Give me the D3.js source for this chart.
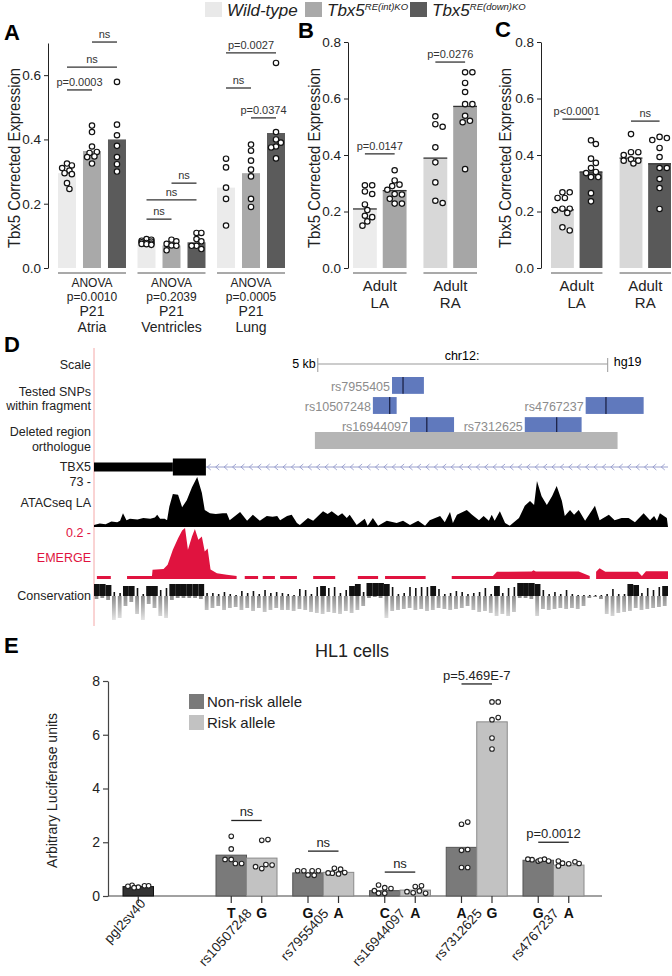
<!DOCTYPE html>
<html>
<head>
<meta charset="utf-8">
<script src="https://cdn.jsdelivr.net/npm/d3@7.9.0/dist/d3.min.js"></script>
<style>
  body { margin: 0; background: #fff; }
  svg { font-family: "Liberation Sans", Arial, Helvetica, sans-serif; }
</style>
</head>
<body>
<svg id="fig" width="672" height="976"></svg>
<script>
// ---------- data: panel A (P21) ----------
const tissuesA = ['Atria', 'Ventricles', 'Lung'];
const anovaA = ['p=0.0010', 'p=0.2039', 'p=0.0005'];
const meansA = [[0.295, 0.364, 0.400], [0.075, 0.070, 0.080], [0.250, 0.295, 0.420]];
const pointsA = [
  [[0.325, 0.319, 0.311, 0.303, 0.295, 0.292, 0.264, 0.246],
   [0.443, 0.423, 0.378, 0.361, 0.358, 0.347, 0.345, 0.325],
   [0.579, 0.446, 0.413, 0.380, 0.345, 0.323, 0.300]],
  [[0.090, 0.088, 0.085, 0.082, 0.080, 0.078, 0.076, 0.075, 0.074, 0.072],
   [0.088, 0.083, 0.075, 0.070, 0.069, 0.055],
   [0.109, 0.109, 0.090, 0.083, 0.069, 0.069, 0.059]],
  [[0.340, 0.313, 0.250, 0.215, 0.132],
   [0.384, 0.365, 0.334, 0.306, 0.285, 0.215, 0.190],
   [0.638, 0.423, 0.400, 0.390, 0.378, 0.375, 0.341]]
];
// [group, from, to, level, label]
const sigA = [
  [0, 1, 2, 0.703, 'ns'], [0, 0, 2, 0.625, 'ns'], [0, 0, 1, 0.554, 'p=0.0003'],
  [1, 1, 2, 0.264, 'ns'], [1, 0, 2, 0.212, 'ns'], [1, 0, 1, 0.152, 'ns'],
  [2, 0, 2, 0.669, 'p=0.0027'], [2, 0, 1, 0.560, 'ns'], [2, 1, 2, 0.467, 'p=0.0374']
];

// ---------- data: panel B (Adult, int KO) ----------
const regions = ['LA', 'RA'];
const meansB = [[0.209, 0.274], [0.389, 0.572]];
const pointsB = [
  [[0.293, 0.293, 0.271, 0.262, 0.225, 0.205, 0.185, 0.180, 0.165, 0.150],
   [0.346, 0.310, 0.295, 0.290, 0.277, 0.262, 0.260, 0.245, 0.228, 0.228]],
  [[0.537, 0.509, 0.500, 0.427, 0.374, 0.303, 0.238, 0.230],
   [0.693, 0.693, 0.655, 0.623, 0.580, 0.580, 0.539, 0.521, 0.516, 0.350]]
];
const sigB = [[0, 0, 1, 0.404, 'p=0.0147'], [1, 0, 1, 0.729, 'p=0.0276']];

// ---------- data: panel C (Adult, down KO) ----------
const meansC = [[0.206, 0.340], [0.389, 0.369]];
const pointsC = [
  [[0.268, 0.268, 0.248, 0.248, 0.210, 0.210, 0.205, 0.195, 0.144, 0.133],
   [0.452, 0.439, 0.387, 0.372, 0.354, 0.340, 0.336, 0.322, 0.322, 0.265, 0.236]],
  [[0.474, 0.410, 0.410, 0.400, 0.385, 0.380, 0.380, 0.370],
   [0.464, 0.460, 0.453, 0.425, 0.393, 0.354, 0.354, 0.315, 0.283, 0.209]]
];
const sigC = [[0, 0, 1, 0.527, 'p<0.0001'], [1, 0, 1, 0.520, 'ns']];

// ---------- data: panel D (browser, positions in kb) ----------
const scaleBarKb = [3.86, 8.86];
const snpRows = [
  { id: 'rs7955405', row: 0, start: 5.14, end: 5.69, snp: 5.33 },
  { id: 'rs10507248', row: 1, start: 4.81, end: 5.22, snp: 5.10 },
  { id: 'rs4767237', row: 1, start: 8.48, end: 9.48, snp: 8.83 },
  { id: 'rs16944097', row: 2, start: 5.45, end: 6.21, snp: 5.74 },
  { id: 'rs7312625', row: 2, start: 7.43, end: 8.41, snp: 7.98 }
];
const deletedRegion = [3.81, 9.03];
const tbx5Utr = [0, 1.36];
const tbx5Exon = [1.36, 1.93];
const tbx5Intron = [1.93, 9.9];

const atac = [[0,3],[0.1,5],[0.2,4],[0.3,8],[0.4,7],[0.45,9],[0.5,20],[0.56,10],[0.62,12],[0.75,11],
  [0.85,13],[0.97,12],[1.05,14],[1.09,18],[1.14,12],[1.22,12],[1.26,10],[1.3,30],[1.36,48],[1.45,47],
  [1.52,29],[1.6,39],[1.69,58],[1.78,73],[1.86,50],[1.91,25],[2.0,20],[2.1,19],[2.22,20],[2.29,20],
  [2.34,10],[2.52,22],[2.64,9],[2.74,18],[2.86,9],[2.98,16],[3.08,15],[3.16,16],[3.21,10],[3.33,16],
  [3.41,18],[3.5,6],[3.55,3],[3.69,13],[3.78,9],[3.95,23],[4.03,19],[4.1,23],[4.21,16],[4.28,20],
  [4.36,13],[4.41,18],[4.53,3],[4.67,12],[4.72,2],[4.81,13],[4.9,2],[5.05,9],[5.22,6],[5.33,9],
  [5.45,3],[5.59,9],[5.71,2],[5.79,10],[5.97,16],[6.05,7],[6.14,22],[6.19,6],[6.26,18],[6.43,25],
  [6.52,18],[6.64,10],[6.72,16],[6.81,9],[6.86,18],[6.91,9],[7.0,23],[7.09,6],[7.17,2],[7.33,13],
  [7.43,31],[7.52,38],[7.59,32],[7.64,67],[7.72,45],[7.81,32],[7.9,45],[7.98,60],[8.07,38],[8.12,16],
  [8.21,25],[8.28,18],[8.36,25],[8.47,9],[8.64,31],[8.72,10],[8.88,18],[8.98,10],[9.1,13],[9.22,13],
  [9.33,7],[9.48,20],[9.59,10],[9.66,16],[9.71,9],[9.76,20],[9.88,13],[9.9,0]];

const emerge = [[0.05,0.012],[0.29,0.012],[0.29,null],
  [0.57,0.012],[1.0,0.012],[1.01,0.036],[1.2,0.039],[1.27,0.056],[1.36,0.115],[1.45,0.16],[1.52,0.19],
  [1.57,0.2],[1.62,0.115],[1.69,0.167],[1.74,0.196],[1.8,0.154],[1.86,0.167],[1.91,0.108],[1.96,0.12],
  [2.01,0.037],[2.12,0.023],[2.29,0.017],[2.46,0.012],[2.47,null],
  [2.6,0.012],[2.83,0.012],[2.83,null],[2.91,0.012],[3.12,0.012],[3.12,null],
  [3.21,0.012],[3.5,0.012],[3.5,null],[3.78,0.012],[4.16,0.012],[4.16,null],
  [4.55,0.012],[4.9,0.012],[4.9,null],[5.02,0.012],[5.72,0.012],[5.72,null],
  [6.17,0.012],[6.88,0.012],[6.95,0.028],[7.55,0.029],[7.58,0.034],[7.62,0.029],[8.36,0.029],
  [8.55,0.012],[8.56,null],[8.66,0.028],[8.72,0.042],[8.82,0.028],[9.38,0.028],[9.45,0.012],
  [9.52,0.03],[9.9,0.03]];

// conservation, 0.1 kb bins
const consPos = [12,12,11,4,3,10,10,8,2,10,10,6,8,12,12,12,12,12,12,3,3,2,4,2,1,5,3,5,2,6,3,4,3,2,1,7,6,2,9,10,
  8,9,3,6,10,12,4,13,13,13,12,9,2,3,9,8,9,9,10,7,2,3,5,4,2,3,4,8,2,10,3,8,9,13,13,13,12,6,2,4,
  2,6,2,1,1,1,1,1,2,7,2,2,12,11,3,8,6,9,10];
const consNeg = [3,2,4,24,22,10,6,18,24,8,12,20,22,4,2,2,2,2,3,14,12,10,14,12,11,14,12,15,12,16,14,12,14,14,15,13,14,16,17,18,
  16,17,18,15,17,14,10,2,1,2,22,15,14,13,12,14,13,15,14,12,13,14,13,12,10,14,16,15,17,20,18,20,16,2,2,3,20,13,14,13,
  12,13,12,13,10,2,1,3,18,20,17,16,15,12,14,13,12,11,10];

// ---------- data: panel E (HL1 luciferase) ----------
const ctrlName = 'pgl2sv40';
const ctrlMean = 0.35;
const ctrlPoints = [0.33, 0.38, 0.40, 0.36, 0.38, 0.31];
const snps = ['rs10507248', 'rs7955405', 'rs16944097', 'rs7312625', 'rs4767237'];
const nonRiskAllele = ['T', 'G', 'C', 'A', 'G'];
const riskAllele = ['G', 'A', 'A', 'G', 'A'];
const nonRiskMean = [1.52, 0.86, 0.20, 1.81, 1.33];
const riskMean = [1.41, 0.88, 0.22, 6.48, 1.15];
const nonRiskPoints = [
  [2.22, 1.75, 1.36, 1.21, 1.36, 1.21],
  [0.78, 0.94, 0.94, 0.94, 0.94, 0.77],
  [0.31, 0.10, 0.28, 0.41, 0.10, 0.20],
  [2.67, 2.75, 1.70, 1.73, 1.06, 1.06],
  [1.30, 1.37, 1.35, 1.37, 1.30, 1.34]
];
const riskPoints = [
  [2.07, 2.10, 1.02, 1.17, 1.09, 1.15],
  [0.82, 1.00, 0.87, 1.03, 0.85, 0.86],
  [0.35, 0.19, 0.38, 0.12, 0.16, 0.10],
  [7.22, 7.22, 6.56, 6.64, 5.88, 5.47],
  [1.20, 1.27, 1.22, 1.21, 1.30, 1.12]
];
const sigE = [[0, 2.81, 'ns'], [1, 1.67, 'ns'], [2, 0.89, 'ns'], [3, 7.89, 'p=5.469E-7'], [4, 2.0, 'p=0.0012']];

// ---------- drawing ----------
const svg = d3.select('#fig');
const red = '#e0133f';

function panelLetter(t, x, y) {
  svg.append('text').attr('x', x).attr('y', y).attr('font-size', 22).attr('font-weight', 'bold').text(t);
}

// beeswarm-ish dodge so circles in a bar do not pile up
function swarm(values, y, r, maxHalf) {
  const placed = [];
  return values.map(v => {
    const cy = y(v);
    let best = 0, bestOv = Infinity;
    for (let k = 0; k < 40; k++) {
      const dx = (k % 2 ? 1 : -1) * Math.ceil(k / 2) * r * 0.9;
      if (Math.abs(dx) > maxHalf) continue;
      let ov = 0;
      placed.forEach(p => {
        const d = Math.hypot(p.dx - dx, p.cy - cy);
        if (d < 2 * r + 0.6) ov += 2 * r + 0.6 - d;
      });
      if (ov === 0) { best = dx; bestOv = 0; break; }
      if (ov < bestOv) { bestOv = ov; best = dx; }
    }
    placed.push({ dx: best, cy });
    return { v, dx: best, cy };
  });
}

function barPanel(o) {
  const g = svg.append('g');
  const xg = d3.scaleBand().domain(d3.range(o.means.length)).range(o.range).paddingInner(o.groupPad);
  const xi = d3.scaleBand().domain(d3.range(o.colors.length)).range([0, xg.bandwidth()]).paddingInner(o.barPad);
  const y = o.y;
  const cx = (gi, si) => xg(gi) + xi(si) + xi.bandwidth() / 2;

  // axis
  const ax = g.append('g').attr('transform', `translate(${o.axisX},0)`)
    .call(d3.axisLeft(y).tickValues(o.ticks).tickFormat(d3.format('.1f')).tickSize(4).tickSizeOuter(0));
  ax.select('.domain').attr('stroke', '#222');
  ax.selectAll('.tick line').attr('stroke', '#222');
  ax.selectAll('.tick text').attr('font-size', 13.5).attr('fill', '#222').attr('font-family', 'Liberation Sans, Arial');

  g.append('text')
    .attr('transform', `translate(${o.titleX},158) rotate(-90)`)
    .attr('text-anchor', 'middle').attr('font-size', 16).attr('fill', '#222')
    .attr('textLength', 180).attr('lengthAdjust', 'spacingAndGlyphs')
    .text('Tbx5 Corrected Expression');

  o.means.forEach((ms, gi) => {
    ms.forEach((m, si) => {
      g.append('rect').attr('x', xg(gi) + xi(si)).attr('width', xi.bandwidth())
        .attr('y', y(m)).attr('height', y(0) - y(m)).attr('fill', o.colors[si][gi] || o.colors[si][0]);
      if (o.topLine) {
        g.append('line').attr('x1', xg(gi) + xi(si)).attr('x2', xg(gi) + xi(si) + xi.bandwidth())
          .attr('y1', y(m)).attr('y2', y(m)).attr('stroke', '#333').attr('stroke-width', 1.3);
      }
      const pts = swarm(o.points[gi][si], y, o.r, xi.bandwidth() / 2 - 2);
      g.selectAll(null).data(pts).join('circle')
        .attr('cx', d => cx(gi, si) + d.dx).attr('cy', d => d.cy).attr('r', o.r)
        .attr('fill', 'white').attr('stroke', '#111').attr('stroke-width', 1.2);
    });
    // group underline
    g.append('line').attr('x1', xg(gi)).attr('x2', xg(gi) + xg.bandwidth())
      .attr('y1', y(0) + 5).attr('y2', y(0) + 5).attr('stroke', '#8c8c8c').attr('stroke-width', 1.5);
    o.labels(gi).forEach(l => {
      g.append('text').attr('x', xg(gi) + xg.bandwidth() / 2).attr('y', l[1])
        .attr('text-anchor', 'middle').attr('font-size', l[2]).attr('fill', '#222').text(l[0]);
    });
  });

  o.sig.forEach(([gi, a, b, lev, lab]) => {
    g.append('line').attr('x1', cx(gi, a)).attr('x2', cx(gi, b)).attr('y1', y(lev)).attr('y2', y(lev))
      .attr('stroke', '#333').attr('stroke-width', 1.3);
    g.append('text').attr('x', (cx(gi, a) + cx(gi, b)) / 2).attr('y', y(lev) - 4)
      .attr('text-anchor', 'middle').attr('font-size', 11).attr('fill', '#333').text(lab);
  });
}

// top legend
const legendTop = [
  { x: 205, color: '#e9e9e9', main: 'Wild-type', sup: '' },
  { x: 305, color: '#a9a9a9', main: 'Tbx5', sup: 'RE(int)KO' },
  { x: 410, color: '#5b5b5b', main: 'Tbx5', sup: 'RE(down)KO' }
];
legendTop.forEach(d => {
  svg.append('rect').attr('x', d.x).attr('y', 2).attr('width', 17).attr('height', 15).attr('fill', d.color);
  const t = svg.append('text').attr('x', d.x + 22).attr('y', 16).attr('font-size', 17)
    .attr('font-style', 'italic').attr('fill', '#222');
  t.append('tspan').text(d.main);
  if (d.sup) t.append('tspan').attr('dy', -6).attr('font-size', 9.5).text(d.sup);
});

// panel A
panelLetter('A', 4, 40);
barPanel({
  means: meansA, points: pointsA, sig: sigA,
  colors: [['#ebebeb'], ['#a9a9a9'], ['#5b5b5b']],
  range: [58, 285], groupPad: 0.145, barPad: 0.28,
  y: d3.scaleLinear().domain([0, 0.7]).range([268, 43]),
  axisX: 48, ticks: [0, 0.2, 0.4, 0.6], titleX: 20, r: 2.7, topLine: false,
  labels: gi => [['ANOVA', 287, 12], [anovaA[gi], 300.5, 12], ['P21', 316, 14], [tissuesA[gi], 331.5, 14]]
});

// panel B
panelLetter('B', 298, 38);
barPanel({
  means: meansB, points: pointsB, sig: sigB,
  colors: [['#ececec', '#d8d8d8'], ['#a6a6a6']],
  range: [353, 477], groupPad: 0.24, barPad: 0.2,
  y: d3.scaleLinear().domain([0, 0.8]).range([268, 42]),
  axisX: 348, ticks: [0, 0.2, 0.4, 0.6, 0.8], titleX: 320, r: 2.7, topLine: true,
  labels: gi => [['Adult', 291, 15], [regions[gi], 308, 15]]
});

// panel C
panelLetter('C', 495, 37);
barPanel({
  means: meansC, points: pointsC, sig: sigC,
  colors: [['#d8d8d8'], ['#595959']],
  range: [551, 671], groupPad: 0.25, barPad: 0.2,
  y: d3.scaleLinear().domain([0, 0.8]).range([268, 42]),
  axisX: 541, ticks: [0, 0.2, 0.4, 0.6, 0.8], titleX: 511, r: 2.7, topLine: true,
  labels: gi => [['Adult', 291, 15], [regions[gi], 308, 15]]
});

// ---------- panel D ----------
panelLetter('D', 4, 352);
const xD = d3.scaleLinear().domain([0, 9.9]).range([94, 668]);
const gD = svg.append('g');

gD.append('line').attr('x1', 94).attr('x2', 94).attr('y1', 348).attr('y2', 626)
  .attr('stroke', '#f4a8a8').attr('stroke-width', 1);

const trackLabels = [
  ['Scale', 369, '#222'], ['Tested SNPs', 396, '#222'], ['within fragment', 410, '#222'],
  ['Deleted region', 436, '#222'], ['orthologue', 451, '#222'], ['TBX5', 471, '#222'],
  ['73 -', 486, '#222'], ['ATACseq LA', 507, '#222'], ['0.2 -', 537, red], ['EMERGE', 562, red],
  ['Conservation', 600, '#222']
];
trackLabels.forEach(([t, y, c]) => {
  gD.append('text').attr('x', 91).attr('y', y).attr('text-anchor', 'end').attr('font-size', 12.5)
    .attr('fill', c).text(t);
});

// scale bar
const sbY = 364;
gD.append('line').attr('x1', xD(scaleBarKb[0])).attr('x2', xD(scaleBarKb[1])).attr('y1', sbY).attr('y2', sbY)
  .attr('stroke', '#999');
scaleBarKb.forEach(k => gD.append('line').attr('x1', xD(k)).attr('x2', xD(k)).attr('y1', sbY - 6).attr('y2', sbY + 8)
  .attr('stroke', '#999'));
gD.append('text').attr('x', xD(scaleBarKb[0]) - 2).attr('y', 368).attr('text-anchor', 'end').attr('font-size', 12.5).text('5 kb');
gD.append('text').attr('x', 462).attr('y', 360).attr('text-anchor', 'middle').attr('font-size', 12.5).text('chr12:');
gD.append('text').attr('x', xD(scaleBarKb[1]) + 6).attr('y', 366).attr('font-size', 12.5).text('hg19');

// SNP fragments
const rowY = d3.scaleBand().domain([0, 1, 2]).range([377, 434]).paddingInner(0.16);
snpRows.forEach(d => {
  gD.append('rect').attr('x', xD(d.start)).attr('width', xD(d.end) - xD(d.start))
    .attr('y', rowY(d.row)).attr('height', rowY.bandwidth()).attr('fill', '#6079bd');
  gD.append('line').attr('x1', xD(d.snp)).attr('x2', xD(d.snp)).attr('y1', rowY(d.row))
    .attr('y2', rowY(d.row) + rowY.bandwidth()).attr('stroke', '#1c2348').attr('stroke-width', 1.3);
  gD.append('text').attr('x', xD(d.start) - 2).attr('y', rowY(d.row) + rowY.bandwidth() - 3)
    .attr('text-anchor', 'end').attr('font-size', 12.5).attr('fill', '#8c8c8c').text(d.id);
});
gD.append('rect').attr('x', xD(deletedRegion[0])).attr('width', xD(deletedRegion[1]) - xD(deletedRegion[0]))
  .attr('y', 432).attr('height', 17).attr('fill', '#b5b5b5');

// TBX5 gene model
const geneY = 467;
gD.append('line').attr('x1', xD(tbx5Intron[0])).attr('x2', xD(tbx5Intron[1])).attr('y1', geneY).attr('y2', geneY)
  .attr('stroke', '#8088c0').attr('stroke-width', 0.8);
gD.selectAll(null).data(d3.range(tbx5Intron[0] + 0.05, tbx5Intron[1], 0.145)).join('path')
  .attr('d', k => `M${xD(k) + 2},${geneY - 3}L${xD(k) - 1.5},${geneY}L${xD(k) + 2},${geneY + 3}`)
  .attr('fill', 'none').attr('stroke', '#8c92c8').attr('stroke-width', 0.8);
gD.append('rect').attr('x', xD(tbx5Utr[0])).attr('width', xD(tbx5Utr[1]) - xD(tbx5Utr[0]))
  .attr('y', geneY - 4.5).attr('height', 9).attr('fill', '#000');
gD.append('rect').attr('x', xD(tbx5Exon[0])).attr('width', xD(tbx5Exon[1]) - xD(tbx5Exon[0]))
  .attr('y', geneY - 8.5).attr('height', 17).attr('fill', '#000');

// ATAC
const yAtac = d3.scaleLinear().domain([0, 73]).range([527, 477]);
gD.append('path').datum(atac)
  .attr('d', d3.area().x(d => xD(d[0])).y0(yAtac(0)).y1(d => yAtac(d[1])))
  .attr('fill', '#000');

// EMERGE
const yEm = d3.scaleLinear().domain([0, 0.2]).range([579, 528]);
gD.append('path').datum(emerge)
  .attr('d', d3.area().defined(d => d[1] !== null).x(d => xD(d[0])).y0(yEm(0)).y1(d => yEm(d[1])))
  .attr('fill', red);

// Conservation
const yCons = d3.scaleLinear().domain([-26, 13]).range([622, 583]);
const grad = svg.append('defs').append('linearGradient').attr('id', 'consGrad')
  .attr('gradientUnits', 'userSpaceOnUse').attr('x1', 0).attr('x2', 0).attr('y1', yCons(0)).attr('y2', yCons(-26));
grad.append('stop').attr('offset', 0).attr('stop-color', '#8a8a8a');
grad.append('stop').attr('offset', 1).attr('stop-color', '#ececec');
const binW = xD(0.1) - xD(0);
gD.selectAll(null).data(consNeg).join('rect')
  .attr('x', (d, i) => xD(i * 0.1) + 0.6).attr('width', binW - 2)
  .attr('y', yCons(0)).attr('height', d => yCons(-d) - yCons(0)).attr('fill', 'url(#consGrad)');
gD.selectAll(null).data(consPos).join('rect')
  .attr('x', (d, i) => xD(i * 0.1) + (d >= 10 ? 0 : binW / 2 - 0.8)).attr('width', d => d >= 10 ? binW : 1.6)
  .attr('y', d => yCons(d)).attr('height', d => yCons(0) - yCons(d)).attr('fill', '#111');

// ---------- panel E ----------
panelLetter('E', 4, 653);
const gE = svg.append('g');
const yE = d3.scaleLinear().domain([0, 8]).range([896, 681]);
const xSnp = d3.scaleBand().domain(snps).range([216, 584]).paddingInner(0.205);
const xAl = d3.scaleBand().domain([0, 1]).range([0, xSnp.bandwidth()]);
const ctrlX = xSnp(snps[0]) - 93;

gE.append('text').attr('x', 352).attr('y', 657).attr('text-anchor', 'middle').attr('font-size', 18)
  .attr('fill', '#222').text('HL1 cells');

const axE = gE.append('g').attr('transform', 'translate(108,0)')
  .call(d3.axisLeft(yE).tickValues([0, 2, 4, 6, 8]).tickSize(5).tickSizeOuter(0));
axE.select('.domain').attr('stroke', '#444').attr('stroke-width', 1.2);
axE.selectAll('.tick line').attr('stroke', '#444').attr('stroke-width', 1.2);
axE.selectAll('.tick text').attr('font-size', 14).attr('fill', '#222').attr('font-family', 'Liberation Sans, Arial');
gE.append('line').attr('x1', 108).attr('x2', 602).attr('y1', yE(0)).attr('y2', yE(0))
  .attr('stroke', '#444').attr('stroke-width', 1.2);
gE.append('text').attr('transform', `translate(57,${(yE(0) + yE(8)) / 2 + 2}) rotate(-90)`)
  .attr('text-anchor', 'middle').attr('font-size', 14).attr('fill', '#222').text('Arbitrary Luciferase units');

function eBar(x, w, mean, pts, fill, stroke, letter) {
  gE.append('rect').attr('x', x).attr('width', w).attr('y', yE(mean)).attr('height', yE(0) - yE(mean))
    .attr('fill', fill).attr('stroke', stroke).attr('stroke-width', 1);
  const sw = swarm(pts, yE, 2.3, w / 2 - 3);
  gE.selectAll(null).data(sw).join('circle')
    .attr('cx', d => x + w / 2 + d.dx).attr('cy', d => d.cy).attr('r', 2.3)
    .attr('fill', 'white').attr('stroke', '#222').attr('stroke-width', 1.1);
  gE.append('line').attr('x1', x + w / 2).attr('x2', x + w / 2).attr('y1', yE(0)).attr('y2', yE(0) + 7)
    .attr('stroke', '#333').attr('stroke-width', 1.2);
  if (letter) {
    gE.append('text').attr('x', x + w / 2).attr('y', 918).attr('text-anchor', 'middle')
      .attr('font-size', 14).attr('font-weight', 'bold').attr('fill', '#111').text(letter);
  }
}

eBar(ctrlX, xAl.bandwidth(), ctrlMean, ctrlPoints, '#333', '#111', '');
gE.append('text').attr('transform', `translate(${ctrlX + xAl.bandwidth() / 2 + 8},904) rotate(-48)`)
  .attr('text-anchor', 'end').attr('font-size', 13.5).attr('fill', '#222').text(ctrlName);

snps.forEach((s, i) => {
  eBar(xSnp(s) + xAl(0), xAl.bandwidth(), nonRiskMean[i], nonRiskPoints[i], '#7a7a7a', '#555', nonRiskAllele[i]);
  eBar(xSnp(s) + xAl(1), xAl.bandwidth(), riskMean[i], riskPoints[i], '#c2c2c2', '#8a8a8a', riskAllele[i]);
  gE.append('text').attr('transform', `translate(${xSnp(s) + xSnp.bandwidth() / 2 + 6},914) rotate(-48)`)
    .attr('text-anchor', 'end').attr('font-size', 13.5).attr('fill', '#222').text(s);
});

sigE.forEach(([i, lev, lab]) => {
  const x1 = xSnp(snps[i]) + xAl(0) + xAl.bandwidth() / 2;
  const x2 = xSnp(snps[i]) + xAl(1) + xAl.bandwidth() / 2;
  gE.append('line').attr('x1', x1).attr('x2', x2).attr('y1', yE(lev)).attr('y2', yE(lev))
    .attr('stroke', '#222').attr('stroke-width', 1.3);
  gE.append('text').attr('x', (x1 + x2) / 2).attr('y', yE(lev) - 4).attr('text-anchor', 'middle')
    .attr('font-size', 13).attr('fill', '#222').text(lab);
});

// legend E
const legendE = [['Non-risk allele', '#7a7a7a', '#555'], ['Risk allele', '#c2c2c2', '#aaa']];
legendE.forEach(([t, c, s], i) => {
  gE.append('rect').attr('x', 189).attr('y', 694 + i * 21).attr('width', 15).attr('height', 15)
    .attr('fill', c);
  gE.append('text').attr('x', 207).attr('y', 707 + i * 21).attr('font-size', 15).attr('fill', '#222').text(t);
});
</script>
</body>
</html>
